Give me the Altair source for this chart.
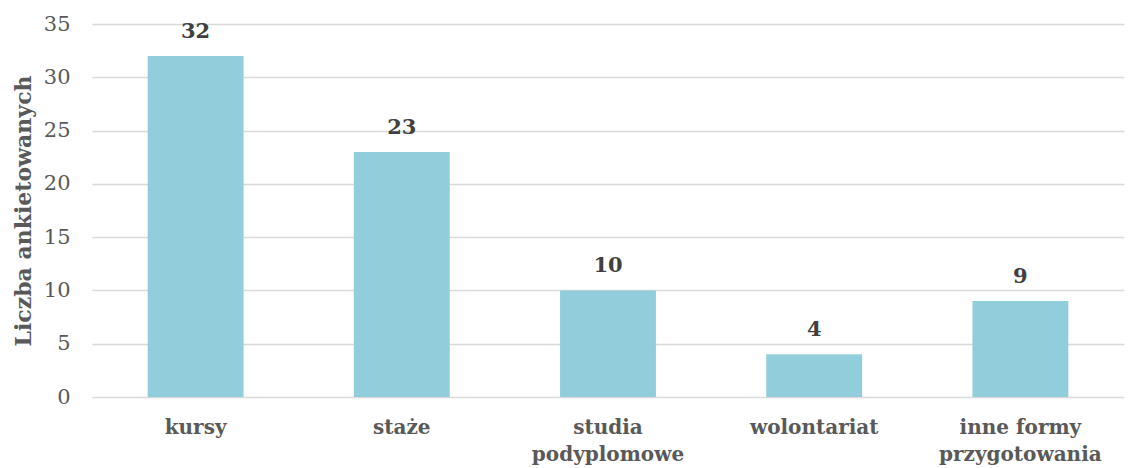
import altair as alt
import pandas as pd

categories = ["kursy", "staże", "studia|podyplomowe", "wolontariat", "inne formy|przygotowania"]
values = [32, 23, 10, 4, 9]

df = pd.DataFrame({"kategoria": categories, "liczba": values})

FONT = "DejaVu Serif"

base = alt.Chart(df).encode(
    x=alt.X("kategoria:N", sort=categories,
            scale=alt.Scale(paddingInner=0.535, paddingOuter=0.27),
            axis=alt.Axis(title=None, labelAngle=0, labelFont=FONT, labelFontSize=20,
                          labelFontWeight="bold", labelColor="#595959", labelPadding=20,
                          labelLineHeight=27, ticks=False, domain=False, grid=False,
                          labelExpr="split(datum.label, '|')")),
)

bars = base.mark_bar(color="#92CDDC").encode(
    y=alt.Y("liczba:Q", scale=alt.Scale(domain=[0, 35]),
            axis=alt.Axis(title="Liczba ankietowanych", values=[0, 5, 10, 15, 20, 25, 30, 35],
                          titleFont=FONT, titleFontSize=22, titleFontWeight="bold",
                          titleColor="#595959", titlePadding=8,
                          labelFont=FONT, labelFontSize=21, labelColor="#595959",
                          labelPadding=22, ticks=False, domain=False,
                          gridColor="#D9D9D9", gridWidth=1.5))
)

text = base.mark_text(dy=-24, font=FONT, fontSize=21, fontWeight="bold", color="#404040").encode(
    y=alt.Y("liczba:Q"),
    text=alt.Text("liczba:Q"),
)

chart = (bars + text).properties(
    width=1032, height=373,
    background="white",
    autosize=alt.AutoSizeParams(type="none"),
    padding={"left": 84, "top": 16, "right": 8, "bottom": 70},
).configure_view(stroke=None)

chart.save("out.html", embed_options={"renderer": "svg", "actions": False})
